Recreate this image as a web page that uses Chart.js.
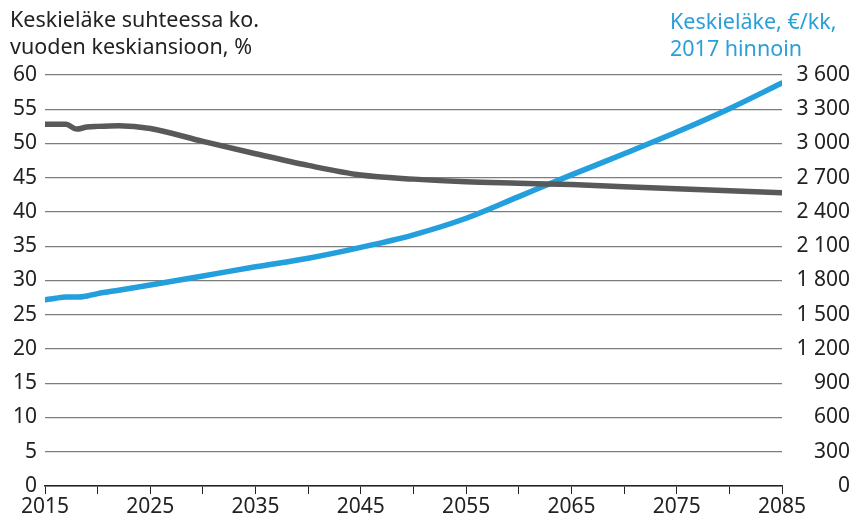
<!DOCTYPE html>
<html>
<head>
<meta charset="utf-8">
<script src="https://cdn.jsdelivr.net/npm/chart.js@4/dist/chart.umd.min.js"></script>
<style>
  html, body { margin: 0; padding: 0; background: #fff; }
  #wrap { position: relative; width: 853px; height: 526px; }
  canvas { position: absolute; left: 0; top: 0; }
  .ttl { position: absolute; font-family: "Noto Sans", sans-serif; font-size: 21.5px; line-height: 27px; white-space: nowrap; }
  #tl { left: 10px; top: 5px; color: #222; }
  #tr { left: 670px; top: 7px; color: #2a9fd8; }
</style>
</head>
<body>
<div id="wrap">
  <canvas id="c" width="853" height="526"></canvas>
  <div class="ttl" id="tl">Keskieläke suhteessa ko.<br>vuoden keskiansioon, %</div>
  <div class="ttl" id="tr">Keskieläke, €/kk,<br>2017 hinnoin</div>
</div>
<script>
const years = [2015, 2016, 2017, 2018, 2019, 2020, 2022, 2025, 2030, 2035, 2040, 2045, 2050, 2055, 2060, 2065, 2070, 2075, 2080, 2085];
const ratioPct = [52.8, 52.8, 52.8, 52.1, 52.4, 52.5, 52.6, 52.2, 50.3, 48.5, 46.8, 45.4, 44.8, 44.4, 44.2, 44.0, 43.7, 43.4, 43.1, 42.8];
const pensionEur = [1630, 1645, 1655, 1655, 1665, 1685, 1715, 1760, 1840, 1920, 1995, 2090, 2200, 2345, 2535, 2725, 2910, 3100, 3305, 3530];
const xLabelYears = [2015, 2025, 2035, 2045, 2055, 2065, 2075, 2085];
const leftTicks = [0, 5, 10, 15, 20, 25, 30, 35, 40, 45, 50, 55, 60];
const rightTicks = [0, 300, 600, 900, 1200, 1500, 1800, 2100, 2400, 2700, 3000, 3300, 3600];

const font = { family: "Noto Sans", size: 21 };
const fmtThousands = v => String(v).replace(/\B(?=(\d{3})+(?!\d))/g, " ");

new Chart(document.getElementById('c'), {
  type: 'line',
  data: {
    datasets: [
      {
        label: 'Keskieläke suhteessa ko. vuoden keskiansioon, %',
        data: years.map((y, i) => ({ x: y, y: ratioPct[i] })),
        yAxisID: 'y',
        borderColor: '#58595b',
        borderWidth: 5.5,
        pointRadius: 0,
        cubicInterpolationMode: 'monotone',
        borderCapStyle: 'round',
        borderJoinStyle: 'round'
      },
      {
        label: 'Keskieläke, €/kk, 2017 hinnoin',
        data: years.map((y, i) => ({ x: y, y: pensionEur[i] })),
        yAxisID: 'y2',
        borderColor: '#229fdc',
        borderWidth: 5.5,
        pointRadius: 0,
        cubicInterpolationMode: 'monotone',
        borderCapStyle: 'round',
        borderJoinStyle: 'round'
      }
    ]
  },
  options: {
    responsive: false,
    animation: false,
    layout: { padding: { top: 75, right: 3, left: 0, bottom: 0 } },
    plugins: { legend: { display: false }, tooltip: { enabled: false } },
    scales: {
      x: {
        type: 'linear',
        min: 2015, max: 2085,
        afterBuildTicks: s => { const t = []; for (let v = 2015; v <= 2085; v += 5) t.push({ value: v }); s.ticks = t; },
        afterFit: s => { s.height = 40; },
        grid: { display: true, drawOnChartArea: false, drawTicks: true, tickLength: 8, color: '#222', lineWidth: 1 },
        border: { display: true, color: '#222', width: 1.5 },
        ticks: {
          color: '#222', font: font, padding: 0, maxRotation: 0, autoSkip: false,
          callback: v => xLabelYears.includes(v) ? String(v) : ''
        }
      },
      y: {
        position: 'left',
        min: 0, max: 60,
        afterBuildTicks: s => { s.ticks = leftTicks.map(v => ({ value: v })); },
        afterFit: s => { s.width = 45; },
        grid: { display: true, drawTicks: false, color: '#7d7d7d', lineWidth: 1.2 },
        border: { display: false },
        ticks: { color: '#222', font: font, padding: 8 }
      },
      y2: {
        position: 'right',
        min: 0, max: 3600,
        afterBuildTicks: s => { s.ticks = rightTicks.map(v => ({ value: v })); },
        afterFit: s => { s.width = 68; },
        grid: { display: false, drawTicks: false },
        border: { display: false },
        ticks: { color: '#222', font: font, crossAlign: 'far', padding: 0, callback: v => fmtThousands(v) }
      }
    }
  }
});
</script>
</body>
</html>
